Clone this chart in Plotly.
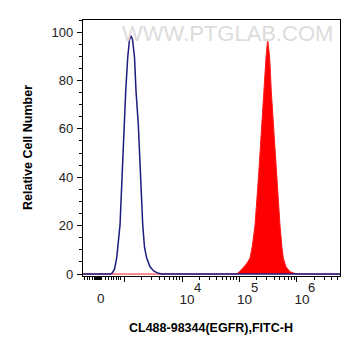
import math
import plotly.graph_objects as go

# x values are in display (decade) units of the biexponential axis: 10^3 -> 3, 10^4 -> 4 ...
control_x = [2.278, 2.748, 2.788, 2.826, 2.864, 2.896, 2.922, 2.957, 2.991, 3.021, 3.056, 3.087,
             3.113, 3.139, 3.174, 3.200, 3.240, 3.278, 3.317, 3.348, 3.386, 3.443, 3.513,
             3.588, 3.652, 6.748]
control_y = [0, 0, 0.5, 2, 6.6, 13, 20.3, 40, 61.8, 75.6, 89.6, 97,
             98.5, 97, 89.6, 75.6, 61.8, 40, 20.3, 11, 6.6, 3, 1.2,
             0.3, 0, 0]

egfr_x = [2.278, 4.939, 4.979, 5.026, 5.078, 5.130, 5.183, 5.226, 5.270, 5.330, 5.386, 5.431,
          5.461, 5.490, 5.525, 5.553, 5.588, 5.643, 5.704, 5.739, 5.762, 5.809, 5.878,
          5.965, 6.017, 6.748]
egfr_y = [0, 0, 0.5, 1.5, 3, 4.5, 6.6, 12, 20.3, 40, 61.8, 75.6,
          89.5, 97, 89.5, 75.6, 61.8, 40, 20.3, 11, 6.6, 3, 1,
          0.2, 0, 0]

major_tickvals = [3, 4, 5, 6]
major_bases = ["", "10", "10", "10"]
exponents = ["", "4", "5", "6"]
zero_pos = 2.597
linear_minor = [2.304, 2.348, 2.391, 2.435, 2.470, 2.496, 2.513, 2.530, 2.548, 2.565, 2.583,
                2.600, 2.661, 2.718, 2.765, 2.805, 2.852, 2.892, 2.934]
log_minor = [d + math.log10(k) for d in (3, 4, 5, 6) for k in range(2, 10)]
x_range = [2.278, 6.748]
minor_vals = linear_minor + [v for v in log_minor if v < x_range[1]]

font_family = "Liberation Sans, Arial, sans-serif"
tick_color = "#222222"

fig = go.Figure()
fig.add_trace(go.Scatter(x=egfr_x, y=egfr_y, mode="lines", fill="tozeroy",
                         fillcolor="#ff0000", line=dict(color="#ff1a1a", width=1),
                         showlegend=False, hoverinfo="skip"))
fig.add_trace(go.Scatter(x=control_x, y=control_y, mode="lines",
                         line=dict(color="#1b1b80", width=1.5),
                         showlegend=False, hoverinfo="skip"))

annotations = [
    dict(x=zero_pos, y=-0.088, xref="x", yref="paper", text="0", showarrow=False,
         font=dict(size=13.5, color=tick_color), xanchor="center", yanchor="middle"),
    dict(x=0.564, y=0.949, xref="paper", yref="paper", text="WWW.PTGLAB.COM",
         showarrow=False, font=dict(size=22, color="#dcdcdc"),
         xanchor="center", yanchor="middle"),
    dict(x=0.498, y=-0.203, xref="paper", yref="paper",
         text="<b>CL488-98344(EGFR),FITC-H</b>", showarrow=False,
         font=dict(size=12.5, color="black"), xanchor="center", yanchor="middle"),
    dict(x=-0.214, y=0.5, xref="paper", yref="paper",
         text="<b>Relative Cell Number</b>", showarrow=False, textangle=-90,
         font=dict(size=12.5, color="black"), xanchor="center", yanchor="middle"),
]
for tv, e in zip(major_tickvals, exponents):
    if e:
        annotations.append(dict(x=tv, y=-0.044, xref="x", yref="paper", text=e,
                                showarrow=False, xshift=15,
                                font=dict(size=13, color=tick_color),
                                xanchor="center", yanchor="middle"))

# the page body has an 8px default margin, so margins are reduced by 8px on left/top
fig.update_layout(
    width=361, height=356,
    margin=dict(l=75, r=29, t=12, b=88, autoexpand=False),
    paper_bgcolor="white", plot_bgcolor="white",
    font=dict(family=font_family, color=tick_color),
    xaxis=dict(range=x_range, tickmode="array", tickvals=major_tickvals, ticktext=major_bases,
               ticks="outside", ticklen=5, tickwidth=1.2, tickcolor="black",
               showline=True, linecolor="black", linewidth=1.2, mirror=True,
               showgrid=False, zeroline=False, tickfont=dict(size=13.5, color=tick_color),
               ticklabelshift=5, ticklabelstandoff=6, automargin=False,
               minor=dict(tickmode="array", tickvals=minor_vals, ticks="outside",
                          ticklen=3, tickcolor="black", tickwidth=1)),
    yaxis=dict(range=[-0.8, 105], tickmode="array", tickvals=[0, 20, 40, 60, 80, 100],
               ticks="outside", ticklen=5, tickwidth=1.2, tickcolor="black",
               showline=True, linecolor="black", linewidth=1.2, mirror=True,
               showgrid=False, zeroline=False, tickfont=dict(size=13, color=tick_color),
               ticklabelstandoff=1, automargin=False,
               minor=dict(dtick=5, ticks="outside", ticklen=3, tickcolor="black", tickwidth=1)),
    annotations=annotations,
)

fig.write_html("out.html")
